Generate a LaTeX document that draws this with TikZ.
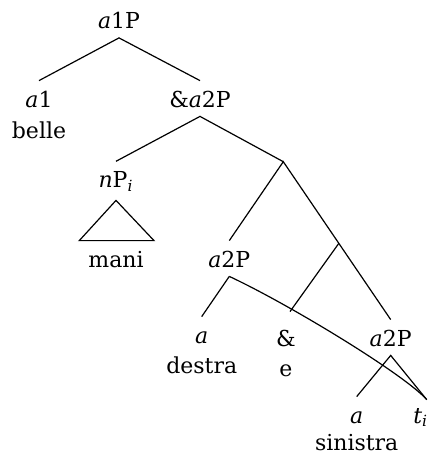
\documentclass[tikz,border=0pt]{standalone}
\usepackage{fontspec}
\setmainfont{DejaVu Serif}
\usetikzlibrary{calc}
\begin{document}
\begin{tikzpicture}[x=0.5pt,y=-0.5pt,
  every node/.style={font=\fontsize{11}{13}\selectfont},
  lab/.style={inner sep=0pt, text height=13pt, text depth=4.5pt, anchor=base},
  wd/.style={inner sep=0pt, anchor=base},
  edge/.style={line width=0.6pt}]
\useasboundingbox (0,0) rectangle (432,456);
% labels
\node[lab] (a1P) at (119,28.5) {\textit{a}1P};
\node[lab] (a1) at (39,107) {\textit{a}1};
\node[wd] (belle) at (39,138) {belle};
\node[lab] (ca2P) at (200,107) {\&\textit{a}2P};
\node[lab] (nP) at (116,187.7) {\textit{n}P\textsubscript{\textit{i}}};
\node[lab] (mani) at (116,267) {mani};
\node[lab] (a2Pl) at (229.3,267) {\textit{a}2P};
\node[lab] (al) at (201.7,343) {\textit{a}};
\node[wd] (destra) at (201.7,373) {destra};
\node[lab] (amp) at (286,346) {\&};
\node[wd] (e) at (286,376) {e};
\node[lab] (a2Pr) at (390.7,346) {\textit{a}2P};
\node[lab] (al2) at (356.7,423) {\textit{a}};
\node[wd] (sinistra) at (356.7,450) {sinistra};
\node[lab] (ti) at (420.7,423) {\textit{t}\textsubscript{\textit{i}}};
% branching points
\coordinate (b1) at (283.3,161.7);
\coordinate (b2) at ($(b1)!0.517!(a2Pr.north)$);
\coordinate (tit) at ([xshift=3pt,yshift=-1.5pt]ti.north);
% edges
\draw[edge] (a1.north) -- (a1P.south) -- (ca2P.north);
\draw[edge] (nP.north) -- (ca2P.south) -- (b1);
\draw[edge] (a2Pl.north) -- (b1) -- (a2Pr.north);
\draw[edge] (b2) -- ([xshift=2pt,yshift=4pt]amp.north);
\draw[edge] ([yshift=-1.65pt]nP.south) -- ([xshift=-18.35pt]mani.north) -- ([xshift=19pt]mani.north) -- cycle;
\draw[edge] (al.north) -- (a2Pl.south);
\draw[edge] (a2Pl.south) .. controls +(60,28) and +(-22,-25) .. (tit);
\draw[edge] (al2.north) -- (a2Pr.south) -- (tit);
\end{tikzpicture}
\end{document}
